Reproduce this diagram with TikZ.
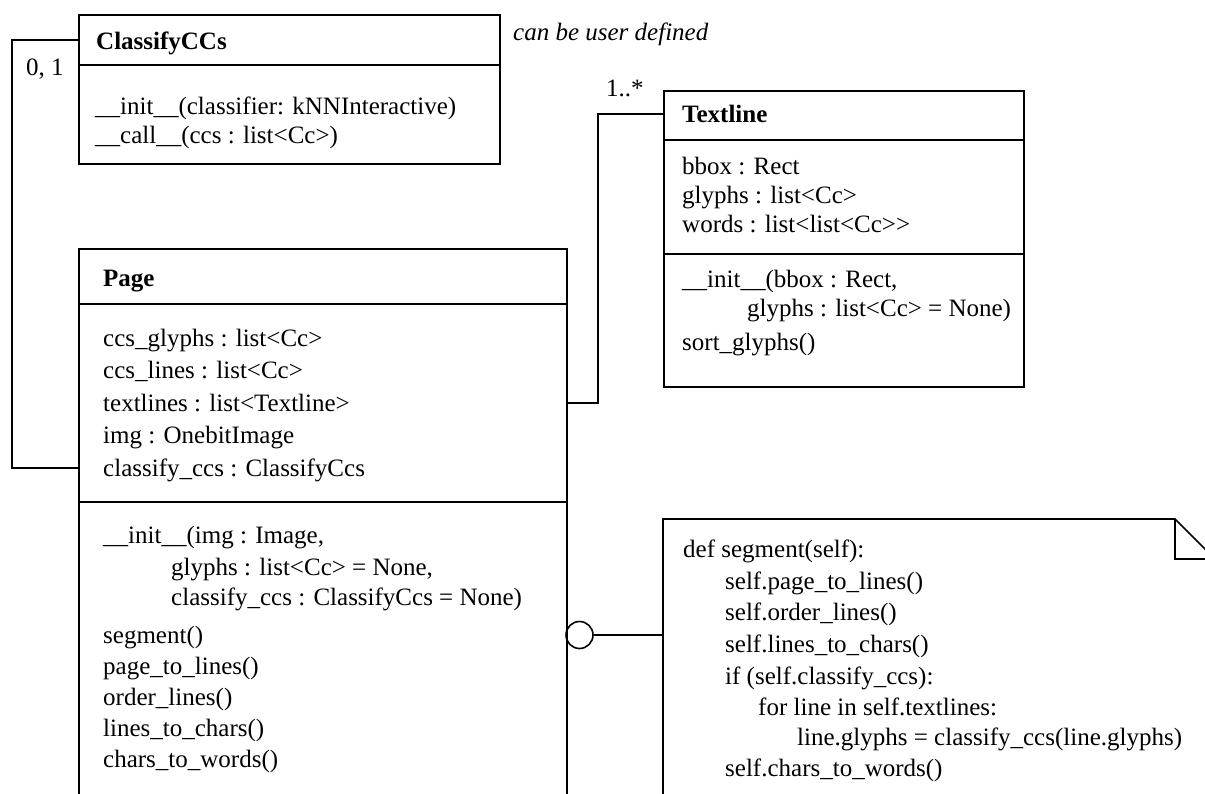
\documentclass[tikz,border=0pt]{standalone}
\usepackage{fontspec}
\setmainfont{Liberation Serif}
\begin{document}
\begin{tikzpicture}[x=1pt,y=-1pt,
  umlbox/.style={draw,line width=1.6pt,rectangle,anchor=north west,inner sep=0pt},
  sep/.style={line width=1.6pt},
  wire/.style={line width=1.6pt},
  txt/.style={anchor=base west,inner sep=0pt,font=\fontsize{25}{30}\selectfont},
  ttl/.style={txt,font=\fontsize{25}{30}\selectfont\bfseries},
  lbl/.style={txt}]
\useasboundingbox (0,0) rectangle (1205,794);
\begin{scope}
\clip (0,0) rectangle (1205,794);

% ClassifyCCs class
\node[umlbox,minimum width=421pt,minimum height=149pt] (cls) at (78,14) {};
\draw[sep] (78,65) -- (499,65);
\node[ttl] (clsT) at (96,50) {ClassifyCCs};
\node[txt] (clsM1) at (95,115) {\_\_init\_\_(classifier: kNNInteractive)};
\node[txt] (clsM2) at (95,144) {\_\_call\_\_(ccs : list<Cc>)};
\node[txt,font=\fontsize{25}{30}\selectfont\itshape] (note1) at (513,41) {can be user defined};

% Textline class
\node[umlbox,minimum width=360pt,minimum height=296pt] (tl) at (663,90) {};
\draw[sep] (663,140) -- (1023,140);
\draw[sep] (663,254) -- (1023,254);
\node[ttl] (tlT) at (682,123) {Textline};
\node[txt] (tlA1) at (682,175) {bbox : Rect};
\node[txt] (tlA2) at (682,204) {glyphs : list<Cc>};
\node[txt] (tlA3) at (682,233) {words : list<list<Cc>{}>};
\node[txt] (tlM1) at (682,288) {\_\_init\_\_(bbox : Rect,};
\node[txt] (tlM2) at (747,317) {glyphs : list<Cc> = None)};
\node[txt] (tlM3) at (682,351) {sort\_glyphs()};

% Page class
\node[umlbox,minimum width=488pt,minimum height=600pt] (pg) at (78,248) {};
\draw[sep] (78,304) -- (566,304);
\draw[sep] (78,502) -- (566,502);
\node[ttl] (pgT) at (103,287) {Page};
\node[txt] (pgA1) at (103,346) {ccs\_glyphs : list<Cc>};
\node[txt] (pgA2) at (103,378) {ccs\_lines : list<Cc>};
\node[txt] (pgA3) at (103,411) {textlines : list<Textline>};
\node[txt] (pgA4) at (103,443) {img : OnebitImage};
\node[txt] (pgA5) at (103,476) {classify\_ccs : ClassifyCcs};
\node[txt] (pgM1) at (103,543) {\_\_init\_\_(img : Image,};
\node[txt] (pgM2) at (171,575) {glyphs : list<Cc> = None,};
\node[txt] (pgM3) at (171,605) {classify\_ccs : ClassifyCcs = None)};
\node[txt] (pgM4) at (103,643) {segment()};
\node[txt] (pgM5) at (103,674) {page\_to\_lines()};
\node[txt] (pgM6) at (103,705) {order\_lines()};
\node[txt] (pgM7) at (103,736) {lines\_to\_chars()};
\node[txt] (pgM8) at (103,767) {chars\_to\_words()};

% note attached to segment()
\coordinate (nNW) at (663,519);
\draw[wire] (1215,900) -- (663,900) -- (nNW) -- (1175,519) -- (1215,559) -- cycle;
\draw[wire] (1175,519) -- (1175,559) -- (1215,559);
\node[txt] (c1) at (683,557) {def segment(self):};
\node[txt] (c2) at (725,589) {self.page\_to\_lines()};
\node[txt] (c3) at (725,620) {self.order\_lines()};
\node[txt] (c4) at (725,652) {self.lines\_to\_chars()};
\node[txt] (c5) at (725,684) {if (self.classify\_ccs):};
\node[txt] (c6) at (758,715) {for line in self.textlines:};
\node[txt] (c7) at (797,745) {line.glyphs = classify\_ccs(line.glyphs)};
\node[txt] (c8) at (725,776) {self.chars\_to\_words()};

% association ClassifyCCs -- Page
\coordinate (a1) at (12,40);
\coordinate (a2) at (12,468);
\draw[wire] (cls.west |- a1) -- (a1) -- (a2) -- (pg.west |- a2);
\node[lbl] (m1) at (26,76) {0, 1};

% association Page -- Textline
\coordinate (b1) at (598,114);
\coordinate (b2) at (598,403);
\draw[wire] (tl.west |- b1) -- (b1) -- (b2) -- (pg.east |- b2);
\node[lbl] (m2) at (606,97) {1..*};

% note anchor
\node[draw,circle,line width=1.6pt,minimum size=27pt,inner sep=0pt] (ring) at (579.5,635) {};
\draw[wire] (ring.east) -- (nNW |- ring.east);
\end{scope}
\end{tikzpicture}
\end{document}
